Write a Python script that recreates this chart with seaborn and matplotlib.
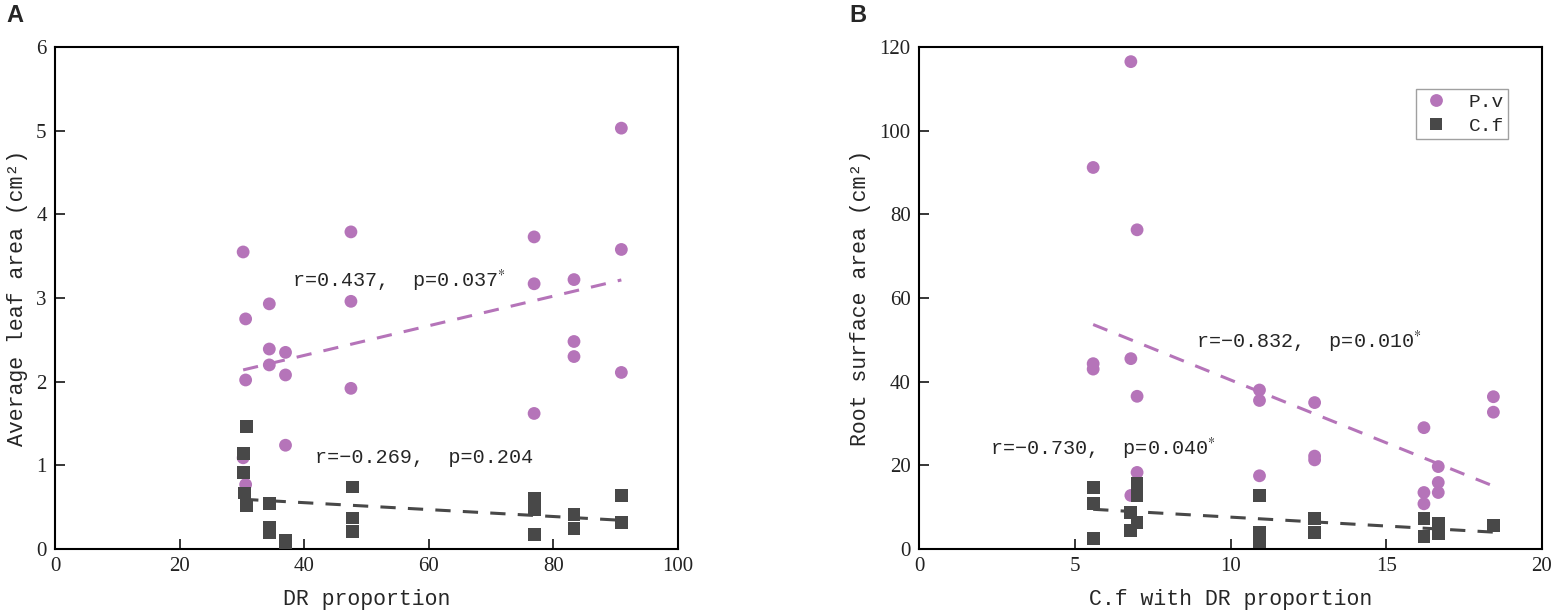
import numpy as np
import pandas as pd
import matplotlib
matplotlib.use("Agg")
import matplotlib.pyplot as plt
import seaborn as sns

# panel A: DR proportion vs average leaf area
a_pv_x = [30.2, 30.6, 30.6, 30.2, 30.6, 34.4, 34.4, 34.4, 37.0, 37.0, 37.0,
          47.5, 47.5, 47.5, 76.9, 76.9, 76.9, 83.3, 83.3, 83.3, 90.9, 90.9, 90.9]
a_pv_y = [3.55, 2.75, 2.02, 1.09, 0.77, 2.93, 2.39, 2.20, 2.35, 2.08, 1.24,
          3.79, 2.96, 1.92, 3.73, 3.17, 1.62, 3.22, 2.48, 2.30, 5.03, 3.58, 2.11]
a_cf_x = [30.7, 30.2, 30.2, 30.4, 30.7, 34.4, 34.4, 34.4, 37.0, 37.0,
          47.7, 47.7, 47.7, 76.9, 76.9, 76.9, 83.3, 83.3, 90.9, 90.9]
a_cf_y = [1.46, 1.14, 0.91, 0.67, 0.52, 0.54, 0.26, 0.20, 0.10, 0.05,
          0.74, 0.37, 0.21, 0.61, 0.47, 0.17, 0.41, 0.24, 0.64, 0.32]

# panel B: C.f with DR proportion vs root surface area
b_pv_x = [5.59, 5.59, 5.59, 6.8, 6.8, 6.8, 7.0, 7.0, 7.0, 10.93, 10.93, 10.93,
          12.7, 12.7, 12.7, 16.21, 16.21, 16.21, 16.67, 16.67, 16.67, 18.44, 18.44]
b_pv_y = [91.2, 44.3, 43.0, 116.5, 45.5, 12.8, 76.3, 36.5, 18.3, 38.0, 35.5, 17.5,
          35.0, 22.2, 21.3, 29.0, 13.5, 10.8, 19.7, 15.9, 13.5, 36.4, 32.7]
b_cf_x = [5.59, 5.59, 5.59, 6.8, 6.8, 7.0, 7.0, 7.0, 10.93, 10.93, 10.93,
          12.7, 12.7, 16.21, 16.21, 16.67, 16.67, 18.44]
b_cf_y = [14.7, 10.8, 2.6, 8.8, 4.5, 15.7, 12.7, 6.3, 12.7, 4.0, 1.8,
          7.2, 4.0, 7.2, 2.9, 6.1, 3.6, 5.6]

species = ["P.v", "C.f"]
colors = {"P.v": "#B574B9", "C.f": "#484848"}
markers = {"P.v": "o", "C.f": "s"}

sns.set_theme(style="ticks")
plt.rcParams["font.family"] = ["Liberation Serif", "DejaVu Sans"]
plt.rcParams["mathtext.fontset"] = "stix"

MONO = ["Liberation Mono", "DejaVu Sans Mono"]


def make_df(pv_x, pv_y, cf_x, cf_y):
    return pd.DataFrame({
        "x": pv_x + cf_x,
        "y": pv_y + cf_y,
        "species": ["P.v"] * len(pv_x) + ["C.f"] * len(cf_x),
    })


def draw_panel(ax, df, show_legend):
    sns.scatterplot(data=df, x="x", y="y", hue="species", style="species",
                    hue_order=species, style_order=species,
                    palette=colors, markers=markers, s=85, linewidth=0,
                    ax=ax, legend=show_legend, zorder=3)
    for sp in species:
        sub = df[df["species"] == sp]
        sns.regplot(data=sub, x="x", y="y", scatter=False, ci=None, ax=ax,
                    color=colors[sp], truncate=True,
                    line_kws=dict(lw=2.2, ls=(0, (5, 4)), zorder=4))
    for side in ["top", "right", "bottom", "left"]:
        ax.spines[side].set_visible(True)
        ax.spines[side].set_linewidth(1.5)
        ax.spines[side].set_color("black")
    ax.tick_params(direction="in", length=7, width=1.3, labelsize=15,
                   labelcolor="#222222", top=False, right=False, pad=6)


fig = plt.figure(figsize=(15.53, 6.16), dpi=100)
ax_a = fig.add_axes([0.0354, 0.1088, 0.4012, 0.8149])
ax_b = fig.add_axes([0.5918, 0.1088, 0.4011, 0.8149])

df_a = make_df(a_pv_x, a_pv_y, a_cf_x, a_cf_y)
df_b = make_df(b_pv_x, b_pv_y, b_cf_x, b_cf_y)

draw_panel(ax_a, df_a, False)
draw_panel(ax_b, df_b, True)

ax_a.set_xlim(0, 100)
ax_a.set_ylim(0, 6)
ax_a.set_xticks([0, 20, 40, 60, 80, 100])
ax_a.set_yticks([0, 1, 2, 3, 4, 5, 6])
ax_a.set_xlabel("DR proportion", family=MONO, fontsize=15.5, labelpad=9)
ax_a.set_ylabel("Average leaf area (cm²)", family=MONO, fontsize=15.5, labelpad=6)

ax_b.set_xlim(0, 20)
ax_b.set_ylim(0, 120)
ax_b.set_xticks([0, 5, 10, 15, 20])
ax_b.set_yticks([0, 20, 40, 60, 80, 100, 120])
ax_b.set_xlabel("C.f with DR proportion", family=MONO, fontsize=15.5, labelpad=9)
ax_b.set_ylabel("Root surface area (cm²)", family=MONO, fontsize=15.5, labelpad=6)

ax_a.text(38.0, 3.2, "r=0.437,  p=0.037$^{*}$", family=MONO, fontsize=14.5, va="center")
ax_a.text(41.7, 1.09, "r=\u22120.269,  p=0.204", family=MONO, fontsize=14.5, va="center")
ax_b.text(8.9, 49.4, "r=\u22120.832,  p=0.010$^{*}$", family=MONO, fontsize=14.5, va="center")
ax_b.text(2.28, 23.8, "r=\u22120.730,  p=0.040$^{*}$", family=MONO, fontsize=14.5, va="center")

handles, labels = ax_b.get_legend_handles_labels()
leg = ax_b.legend(handles, labels, loc="upper right", bbox_to_anchor=(0.945, 0.916),
                  borderaxespad=0, frameon=True, fancybox=False, edgecolor="#888888",
                  prop={"family": MONO, "size": 14}, handletextpad=0.9,
                  handlelength=1.6, borderpad=0.2, labelspacing=0.35)
leg.get_frame().set_linewidth(1.0)

fig.text(6 / 1553, 1 - 16 / 616, "A", family="Liberation Sans", fontweight="bold",
         fontsize=17, va="center", ha="left")
fig.text(849 / 1553, 1 - 16 / 616, "B", family="Liberation Sans", fontweight="bold",
         fontsize=17, va="center", ha="left")

fig.savefig("out.png", dpi=100)
